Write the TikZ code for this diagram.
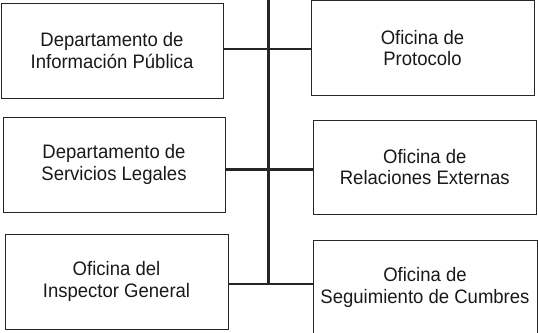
\documentclass[tikz,border=0pt]{standalone}
\usepackage{fontspec}
\setmainfont{Liberation Sans}[FakeStretch=0.95]
\begin{document}
\begin{tikzpicture}[x=1pt,y=-1pt,
  box/.style={draw=black!85, line width=1pt, inner sep=0pt, align=center,
    text=black!90, font=\fontsize{19.5}{21.6}\selectfont},
  link/.style={draw=black!85, line width=2.4pt}]
\clip (0,0) rectangle (538,332);
\useasboundingbox (0,0) rectangle (538,332);
\node[box, minimum width=222pt, minimum height=95pt] (l1) at (112,50.5) {Departamento de\\Información Pública};
\node[box, minimum width=222pt, minimum height=95pt] (l2) at (114,164.7) {Departamento de\\Servicios Legales};
\node[box, minimum width=223pt, minimum height=95pt] (l3) at (116.5,281.5) {Oficina del\\Inspector General};
\node[box, minimum width=223pt, minimum height=95pt] (r1) at (422.5,48) {Oficina de\\Protocolo};
\node[box, minimum width=223pt, minimum height=94pt] (r2) at (424.8,167) {Oficina de\\Relaciones Externas};
\node[box, minimum width=224pt, minimum height=95pt] (r3) at (425,287.5) {Oficina de\\Seguimiento de Cumbres};
\coordinate (top) at (268.3,-2);
\coordinate (j1) at (268.3,49);
\coordinate (j2) at (268.3,169.5);
\coordinate (j3) at (268.3,284);
\draw[link] (top) -- (j3);
\draw[link] (l1.east |- j1) -- (r1.west |- j1);
\draw[link] (l2.east |- j2) -- (r2.west |- j2);
\draw[link] (l3.east |- j3) -- (r3.west |- j3);
\end{tikzpicture}
\end{document}
